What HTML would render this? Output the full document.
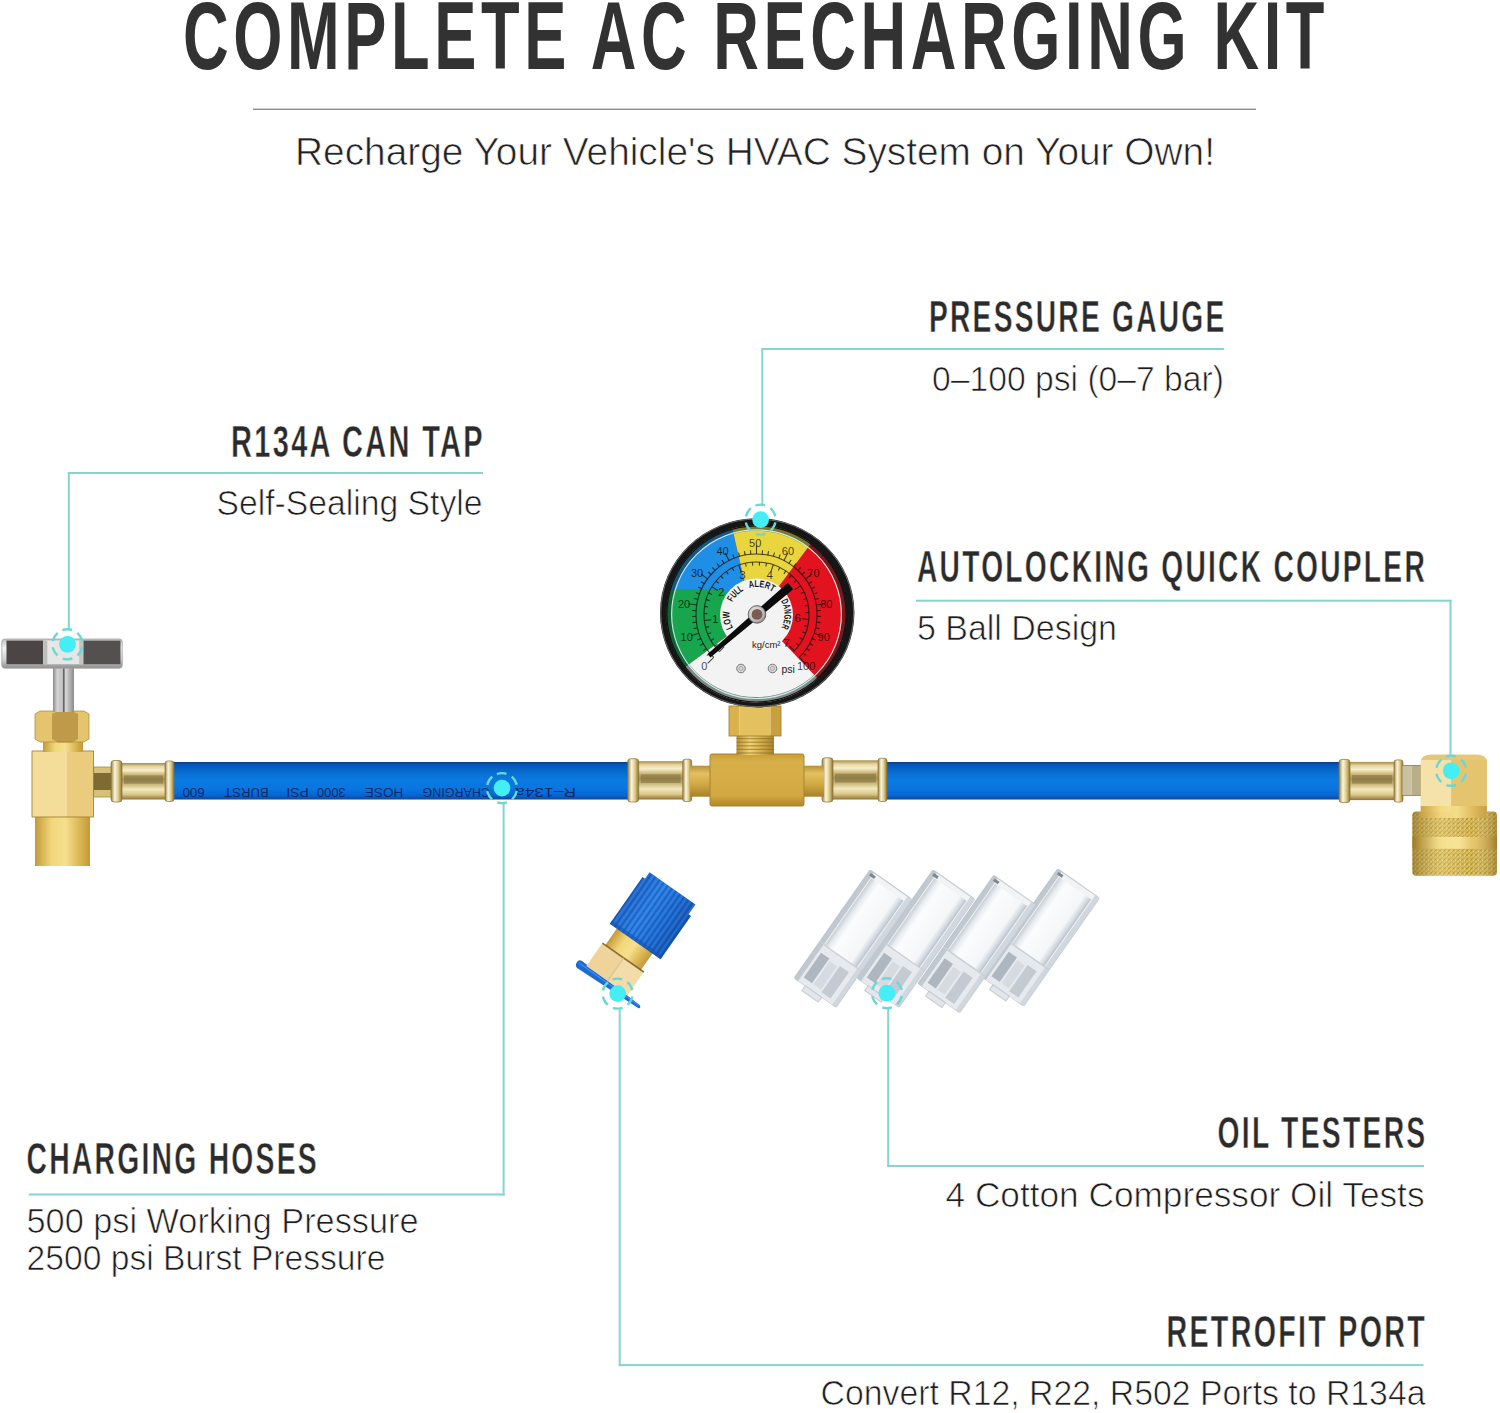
<!DOCTYPE html>
<html><head><meta charset="utf-8"><title>Complete AC Recharging Kit</title>
<style>
html,body{margin:0;padding:0;background:#fff;}
body{width:1500px;height:1413px;overflow:hidden;font-family:"Liberation Sans",sans-serif;}
svg{display:block;font-family:"Liberation Sans",sans-serif;}
</style></head><body>
<svg width="1500" height="1413" viewBox="0 0 1500 1413"><defs>
<linearGradient id="hoseG" x1="0" y1="0" x2="0" y2="1">
 <stop offset="0" stop-color="#063a80"/><stop offset="0.05" stop-color="#0552b0"/>
 <stop offset="0.2" stop-color="#0666c8"/><stop offset="0.45" stop-color="#0a7ae0"/>
 <stop offset="0.7" stop-color="#0a76e0"/><stop offset="0.88" stop-color="#0866d4"/>
 <stop offset="0.96" stop-color="#0a55b0"/><stop offset="1" stop-color="#0a4590"/>
</linearGradient>
<linearGradient id="ferG" x1="0" y1="0" x2="0" y2="1">
 <stop offset="0" stop-color="#a88c44"/><stop offset="0.1" stop-color="#e6d8a4"/>
 <stop offset="0.2" stop-color="#f6eecc"/><stop offset="0.32" stop-color="#cdb874"/>
 <stop offset="0.45" stop-color="#a89456"/><stop offset="0.58" stop-color="#c9b676"/>
 <stop offset="0.72" stop-color="#f2e8c0"/><stop offset="0.86" stop-color="#dcc888"/>
 <stop offset="1" stop-color="#8e7432"/>
</linearGradient>
<linearGradient id="ferEnd" x1="0" y1="0" x2="1" y2="0">
 <stop offset="0" stop-color="#9a8040"/><stop offset="0.35" stop-color="#fbf6de"/>
 <stop offset="0.65" stop-color="#e0cc88"/><stop offset="1" stop-color="#8e7434"/>
</linearGradient>
<linearGradient id="brassV" x1="0" y1="0" x2="0" y2="1">
 <stop offset="0" stop-color="#b89136"/><stop offset="0.25" stop-color="#e2c063"/>
 <stop offset="0.6" stop-color="#d0a943"/><stop offset="1" stop-color="#a6812c"/>
</linearGradient>
<linearGradient id="brassH" x1="0" y1="0" x2="1" y2="0">
 <stop offset="0" stop-color="#b48e34"/><stop offset="0.35" stop-color="#f0d374"/>
 <stop offset="0.6" stop-color="#d9b552"/><stop offset="1" stop-color="#a8832c"/>
</linearGradient>
<linearGradient id="teeG" x1="0" y1="0" x2="0" y2="1">
 <stop offset="0" stop-color="#c99d36"/><stop offset="0.15" stop-color="#d8b04a"/>
 <stop offset="0.8" stop-color="#d2a842"/><stop offset="1" stop-color="#b08628"/>
</linearGradient>
<linearGradient id="cylG" x1="0" y1="0" x2="1" y2="0">
 <stop offset="0" stop-color="#c49a38"/><stop offset="0.3" stop-color="#f2d77a"/>
 <stop offset="0.55" stop-color="#f6e08e"/><stop offset="0.8" stop-color="#dcb856"/>
 <stop offset="1" stop-color="#c29a3a"/>
</linearGradient>
<linearGradient id="stemG" x1="0" y1="0" x2="1" y2="0">
 <stop offset="0" stop-color="#8a8a8a"/><stop offset="0.2" stop-color="#d4d4d4"/>
 <stop offset="0.45" stop-color="#c0c0c0"/><stop offset="0.6" stop-color="#d8d8d8"/><stop offset="1" stop-color="#8c8c8c"/>
</linearGradient>
<linearGradient id="chromeG" x1="0" y1="0" x2="0" y2="1">
 <stop offset="0" stop-color="#bdbdbd"/><stop offset="0.3" stop-color="#f4f4f4"/>
 <stop offset="0.7" stop-color="#d0d0d0"/><stop offset="1" stop-color="#8e8e8e"/>
</linearGradient>
<linearGradient id="darkPanel" x1="0" y1="0" x2="1" y2="0">
 <stop offset="0" stop-color="#3e3b3b"/><stop offset="0.5" stop-color="#4a4646"/>
 <stop offset="1" stop-color="#5a5656"/>
</linearGradient>
<pattern id="knurl" width="4.5" height="4.5" patternUnits="userSpaceOnUse">
 <rect width="4.5" height="4.5" fill="#dcbd58"/>
 <path d="M0 4.5 L4.5 0 M-1 1 L1 -1 M3.5 5.5 L5.5 3.5" stroke="#a2832c" stroke-width="0.9"/>
 <path d="M0 0 L4.5 4.5 M-1 3.5 L1 5.5 M3.5 -1 L5.5 1" stroke="#b8982e" stroke-width="0.7"/>
 <circle cx="2.25" cy="1.1" r="0.6" fill="#f6e6a8"/>
</pattern>
<linearGradient id="knurlShade" x1="0" y1="0" x2="1" y2="0">
 <stop offset="0" stop-color="#6b5010" stop-opacity="0.45"/><stop offset="0.35" stop-color="#fff6c0" stop-opacity="0.25"/>
 <stop offset="0.7" stop-color="#fff" stop-opacity="0"/><stop offset="1" stop-color="#6b5010" stop-opacity="0.4"/>
</linearGradient>
<linearGradient id="capBlue" x1="0" y1="0" x2="1" y2="0">
 <stop offset="0" stop-color="#1d63c6"/><stop offset="0.35" stop-color="#2b7fe4"/>
 <stop offset="0.7" stop-color="#1c6ad2"/><stop offset="1" stop-color="#1553b0"/>
</linearGradient>
<pattern id="ribs" width="5" height="10" patternUnits="userSpaceOnUse">
 <rect x="0" width="1.4" height="10" fill="#0f4aa0" opacity="0.55"/>
 <rect x="2.4" width="1.2" height="10" fill="#5aa6ff" opacity="0.35"/>
</pattern>
<linearGradient id="tubeG" x1="0" y1="0" x2="1" y2="0">
 <stop offset="0" stop-color="#c6ced6"/><stop offset="0.12" stop-color="#e9edf1"/>
 <stop offset="0.25" stop-color="#fbfcfd"/><stop offset="0.8" stop-color="#f4f6f8"/>
 <stop offset="0.92" stop-color="#d4dbe2"/><stop offset="1" stop-color="#b8c2cc"/>
</linearGradient>
<clipPath id="capClip"><path d="M-30,-31 L-30,-88 L-27,-88 L-27,-96 L29,-96 L29,-84 L32,-84 L32,-31 Z"/></clipPath><clipPath id="faceClip"><ellipse cx="756.5" cy="613.9" rx="90" ry="88.5"/></clipPath><radialGradient id="hubG" cx="0.4" cy="0.4" r="0.7">
 <stop offset="0" stop-color="#f4f4f4"/><stop offset="0.7" stop-color="#b8b8b8"/><stop offset="1" stop-color="#6a6a6a"/></radialGradient><path id="innerArc" d="M734.47,630.27 A27.5,27.5 0 1 1 779.53,630.27"/></defs><text x="183" y="68.5" font-size="96" font-weight="bold" fill="#323232" letter-spacing="7" textLength="1146" lengthAdjust="spacingAndGlyphs" text-anchor="start" >COMPLETE AC RECHARGING KIT</text>
<rect x="253" y="108.6" width="1003" height="1.4" fill="#8c8c8c"/>
<text x="295" y="164.7" font-size="38.5" font-weight="normal" fill="#222" textLength="920" lengthAdjust="spacingAndGlyphs" text-anchor="start"  stroke="#fff" stroke-width="0.7">Recharge Your Vehicle's HVAC System on Your Own!</text>
<text x="929" y="332" font-size="44" font-weight="bold" fill="#2b2b2b" letter-spacing="3.5" textLength="297.5" lengthAdjust="spacingAndGlyphs" text-anchor="start"  stroke="#fff" stroke-width="0.5">PRESSURE GAUGE</text>
<rect x="761.5" y="348" width="462.5" height="2" fill="#84d4d2"/>
<rect x="761.3" y="348" width="2" height="157" fill="#84d4d2"/>
<text x="932" y="391" font-size="34.5" font-weight="normal" fill="#1e1e1e" textLength="292" lengthAdjust="spacingAndGlyphs" text-anchor="start"  stroke="#fff" stroke-width="0.7">0–100 psi (0–7 bar)</text>
<text x="231" y="457" font-size="44" font-weight="bold" fill="#2b2b2b" letter-spacing="3.5" textLength="254" lengthAdjust="spacingAndGlyphs" text-anchor="start"  stroke="#fff" stroke-width="0.5">R134A CAN TAP</text>
<rect x="67.8" y="472" width="415.2" height="2" fill="#84d4d2"/>
<rect x="67.8" y="472" width="2" height="157" fill="#84d4d2"/>
<text x="216.5" y="515.4" font-size="34.5" font-weight="normal" fill="#1e1e1e" textLength="266" lengthAdjust="spacingAndGlyphs" text-anchor="start"  stroke="#fff" stroke-width="0.7">Self-Sealing Style</text>
<text x="917" y="581.6" font-size="44" font-weight="bold" fill="#2b2b2b" letter-spacing="3.5" textLength="510" lengthAdjust="spacingAndGlyphs" text-anchor="start"  stroke="#fff" stroke-width="0.5">AUTOLOCKING QUICK COUPLER</text>
<rect x="916" y="599.7" width="535.5" height="2" fill="#84d4d2"/>
<rect x="1449.5" y="600" width="2" height="156" fill="#84d4d2"/>
<text x="917" y="640" font-size="34.5" font-weight="normal" fill="#1e1e1e" textLength="200" lengthAdjust="spacingAndGlyphs" text-anchor="start"  stroke="#fff" stroke-width="0.7">5 Ball Design</text>
<text x="26.5" y="1174.2" font-size="44" font-weight="bold" fill="#2b2b2b" letter-spacing="3.5" textLength="292.5" lengthAdjust="spacingAndGlyphs" text-anchor="start"  stroke="#fff" stroke-width="0.5">CHARGING HOSES</text>
<rect x="28.8" y="1193.5" width="475.8" height="2" fill="#84d4d2"/>
<rect x="502.6" y="803" width="2" height="392.5" fill="#84d4d2"/>
<text x="26.5" y="1232.8" font-size="34.5" font-weight="normal" fill="#1e1e1e" textLength="392" lengthAdjust="spacingAndGlyphs" text-anchor="start"  stroke="#fff" stroke-width="0.7">500 psi Working Pressure</text>
<text x="26.5" y="1270.2" font-size="34.5" font-weight="normal" fill="#1e1e1e" textLength="359" lengthAdjust="spacingAndGlyphs" text-anchor="start"  stroke="#fff" stroke-width="0.7">2500 psi Burst Pressure</text>
<text x="1217.5" y="1148" font-size="44" font-weight="bold" fill="#2b2b2b" letter-spacing="3.5" textLength="210" lengthAdjust="spacingAndGlyphs" text-anchor="start"  stroke="#fff" stroke-width="0.5">OIL TESTERS</text>
<rect x="887.2" y="1165" width="536.8" height="2" fill="#84d4d2"/>
<rect x="887.2" y="1009" width="2" height="158" fill="#84d4d2"/>
<text x="945.5" y="1206.9" font-size="34.5" font-weight="normal" fill="#1e1e1e" textLength="479" lengthAdjust="spacingAndGlyphs" text-anchor="start"  stroke="#fff" stroke-width="0.7">4 Cotton Compressor Oil Tests</text>
<text x="1166.5" y="1347" font-size="44" font-weight="bold" fill="#2b2b2b" letter-spacing="3.5" textLength="260.5" lengthAdjust="spacingAndGlyphs" text-anchor="start"  stroke="#fff" stroke-width="0.5">RETROFIT PORT</text>
<rect x="618.7" y="1364.1" width="804.8" height="2" fill="#84d4d2"/>
<rect x="618.7" y="1010" width="2" height="356" fill="#84d4d2"/>
<text x="820.5" y="1405.3" font-size="34.5" font-weight="normal" fill="#1e1e1e" textLength="605" lengthAdjust="spacingAndGlyphs" text-anchor="start"  stroke="#fff" stroke-width="0.7">Convert R12, R22, R502 Ports to R134a</text>
<rect x="170" y="762" width="462" height="37.5" fill="url(#hoseG)"/>
<rect x="884" y="762" width="459" height="37.5" fill="url(#hoseG)"/>
<g transform="rotate(180 379 781.5)" fill="#0a2258" fill-opacity="0.9" font-size="12.5"><text x="182" y="774.6" textLength="61.0" lengthAdjust="spacingAndGlyphs">R–134a</text><text x="268" y="774.6" textLength="67.6" lengthAdjust="spacingAndGlyphs">CHARGING</text><text x="354.8" y="774.6" textLength="38.4" lengthAdjust="spacingAndGlyphs">HOSE</text><text x="412.4" y="774.6" textLength="28.8" lengthAdjust="spacingAndGlyphs">3000</text><text x="449.2" y="774.6" textLength="22.4" lengthAdjust="spacingAndGlyphs">PSI</text><text x="489.2" y="774.6" textLength="44.8" lengthAdjust="spacingAndGlyphs">BURST</text><text x="553.2" y="774.6" textLength="22.4" lengthAdjust="spacingAndGlyphs">600</text></g>
<rect x="93" y="767" width="19" height="30" fill="#d8c078"/>
<rect x="93" y="773" width="19" height="17" fill="#7e6a34"/>
<rect x="93" y="767" width="19" height="30" fill="none" stroke="#9a7e3a" stroke-width="0.7"/>
<rect x="117" y="763.0" width="51" height="36.5" fill="url(#ferG)"/><rect x="124" y="775.4" width="39" height="8.3" fill="#7c6c3c" opacity="0.55"/><rect x="111" y="760.5" width="11" height="41.5" rx="3" fill="url(#ferEnd)" stroke="#8a7030" stroke-width="0.7"/><rect x="165" y="761.0" width="9" height="40.5" rx="2.5" fill="url(#ferEnd)" stroke="#8a7030" stroke-width="0.7"/>
<rect x="35" y="816" width="55" height="50" fill="url(#cylG)"/>
<rect x="32" y="751" width="33.83" height="66" fill="#f3dd98"/><rect x="65.83" y="751" width="0.61" height="66" fill="#f3dd98"/><rect x="66.44" y="751" width="27.06" height="66" fill="#ebcc7e"/><rect x="32" y="751" width="61.5" height="66" fill="none" stroke="#9a7a2c" stroke-width="0.8"/>
<rect x="43" y="741" width="40" height="11" fill="url(#cylG)"/>
<path d="M35,714 L40,711 L84,711 L89,714 L89,739 L84,742 L40,742 L35,739 Z" fill="#e4c46c"/>
<path d="M52,714 L58,711 L72,711 L78,714 L78,739 L72,742.5 L58,742.5 L52,739 Z" fill="#bf9a48"/>
<path d="M35,714 L40,711 L84,711 L89,714 L89,739 L84,742 L40,742 L35,739 Z" fill="none" stroke="#a8873a" stroke-width="0.7"/>
<rect x="53" y="667" width="21" height="45" fill="url(#stemG)"/>
<rect x="63" y="667" width="1.6" height="45" fill="#4a4a4a" opacity="0.8"/>
<rect x="1.8" y="639" width="120.5" height="29.2" rx="3" fill="url(#chromeG)" stroke="#a4a4a4" stroke-width="0.8"/>
<rect x="6.5" y="640.6" width="36.8" height="23.6" fill="#4b4545"/>
<rect x="83.2" y="640.6" width="37.3" height="23.6" fill="#555050"/>
<rect x="43.3" y="640.6" width="39.9" height="23.6" fill="#e6e6e6"/>
<rect x="43.3" y="640.6" width="4" height="23.6" fill="#bdbdbd"/>
<rect x="79.2" y="640.6" width="4" height="23.6" fill="#c4c4c4"/>
<rect x="633.7" y="761.2" width="52" height="38.3" fill="url(#ferG)"/><rect x="640.7" y="774.3" width="40" height="8.7" fill="#7c6c3c" opacity="0.55"/><rect x="627.7" y="758.7" width="11" height="43.3" rx="3" fill="url(#ferEnd)" stroke="#8a7030" stroke-width="0.7"/><rect x="682.7" y="759.2" width="9" height="42.3" rx="2.5" fill="url(#ferEnd)" stroke="#8a7030" stroke-width="0.7"/>
<rect x="828" y="760.3" width="53" height="39.2" fill="url(#ferG)"/><rect x="835" y="773.7" width="41" height="8.8" fill="#7c6c3c" opacity="0.55"/><rect x="822" y="757.8" width="11" height="44.2" rx="3" fill="url(#ferEnd)" stroke="#8a7030" stroke-width="0.7"/><rect x="878" y="758.3" width="9" height="43.2" rx="2.5" fill="url(#ferEnd)" stroke="#8a7030" stroke-width="0.7"/>
<rect x="690" y="765.7" width="22" height="31" fill="url(#brassV)"/>
<rect x="802" y="765.7" width="22" height="31" fill="url(#brassV)"/>
<rect x="710" y="754" width="94" height="52" rx="2" fill="url(#teeG)" stroke="#a88430" stroke-width="1"/>
<rect x="736.5" y="735" width="37.5" height="20" fill="url(#brassH)"/>
<rect x="736.5" y="738.0" width="37.5" height="1.2" fill="#8a6a22" opacity="0.6"/>
<rect x="736.5" y="741.6" width="37.5" height="1.2" fill="#8a6a22" opacity="0.6"/>
<rect x="736.5" y="745.2" width="37.5" height="1.2" fill="#8a6a22" opacity="0.6"/>
<rect x="736.5" y="748.8" width="37.5" height="1.2" fill="#8a6a22" opacity="0.6"/>
<rect x="736.5" y="752.4" width="37.5" height="1.2" fill="#8a6a22" opacity="0.6"/>
<rect x="729" y="706" width="10.40" height="30" fill="#d9b24e"/><rect x="739.40" y="706" width="31.20" height="30" fill="#e4c05e"/><rect x="770.60" y="706" width="10.40" height="30" fill="#c9a040"/><rect x="729" y="706" width="52" height="30" fill="none" stroke="#9a7a2c" stroke-width="0.8"/>
<ellipse cx="757.2" cy="612.8" rx="97.2" ry="94.6" fill="#161616"/><ellipse cx="757.2" cy="612.8" rx="96.4" ry="93.8" fill="none" stroke="#8c8c8c" stroke-width="1" opacity="0.7"/><ellipse cx="756.5" cy="613.9" rx="90" ry="88.5" fill="#e2121f"/><g clip-path="url(#faceClip)"><polygon points="640.0,589.0 721.0,589.0 756.5,614.5 640.0,700.3" fill="#17a64d"/><polygon points="640.0,470.0 719.0,470.0 752.0,614.5 721.0,589.0 640.0,589.0" fill="#1f8fe6"/><polygon points="719.0,470.0 866.0,470.0 757.7,614.5 752.0,614.5" fill="#e9d53e"/><polygon points="756.5,614.5 880.0,743.8 620.0,743.8 620.0,715.0" fill="#f3f3f3"/></g><ellipse cx="756.5" cy="613.9" rx="87.3" ry="85.8" fill="none" stroke="#06221e" stroke-opacity="0.5" stroke-width="5.4"/><ellipse cx="756.5" cy="614.2" rx="84.9" ry="84.3" fill="none" stroke="#e4fafa" stroke-opacity="0.85" stroke-width="1.2"/><ellipse cx="756.5" cy="613.9" rx="89.6" ry="88.1" fill="none" stroke="#101010" stroke-width="1.2"/><circle cx="756.5" cy="615.0" r="36.5" fill="#f3f3f3"/><path d="M713.7,657.3 A60.5,60.5 0 1 1 799.3,657.3" fill="none" stroke="#111" stroke-opacity="0.75" stroke-width="1.1"/><path d="M719.4,651.6 A52.5,52.5 0 1 1 793.6,651.6" fill="none" stroke="#111" stroke-opacity="0.75" stroke-width="1.1"/><path d="M713.7,657.3L707.7,663.3M709.9,653.1L706.8,655.6M706.5,648.5L703.2,650.8M703.5,643.6L700.0,645.6M701.0,638.5L697.3,640.1M699.0,633.2L690.9,635.8M697.5,627.7L693.6,628.6M696.5,622.1L692.5,622.6M696.0,616.4L692.0,616.5M696.1,610.7L692.1,610.5M696.7,605.0L688.3,603.7M697.9,599.5L694.0,598.5M699.6,594.0L695.8,592.7M701.8,588.7L698.1,587.0M704.4,583.7L701.0,581.7M707.6,578.9L700.7,573.9M711.1,574.5L708.1,571.8M715.1,570.4L712.3,567.5M719.4,566.7L717.0,563.5M724.1,563.4L721.9,560.0M729.0,560.6L725.2,553.0M734.2,558.2L732.8,554.5M739.6,556.4L738.5,552.6M745.2,555.1L744.4,551.1M750.8,554.3L750.4,550.3M756.5,554.0L756.5,545.5M762.2,554.3L762.6,550.3M767.8,555.1L768.6,551.1M773.4,556.4L774.5,552.6M778.8,558.2L780.2,554.5M784.0,560.6L787.8,553.0M788.9,563.4L791.1,560.0M793.6,566.7L796.0,563.5M797.9,570.4L800.7,567.5M801.9,574.5L804.9,571.8M805.4,578.9L812.3,573.9M808.6,583.7L812.0,581.7M811.2,588.7L814.9,587.0M813.4,594.0L817.2,592.7M815.1,599.5L819.0,598.5M816.3,605.0L824.7,603.7M816.9,610.7L820.9,610.5M817.0,616.4L821.0,616.5M816.5,622.1L820.5,622.6M815.5,627.7L819.4,628.6M814.0,633.2L822.1,635.8M812.0,638.5L815.7,640.1M809.5,643.6L813.0,645.6M806.5,648.5L809.8,650.8M803.1,653.1L806.2,655.6M799.3,657.3L805.3,663.3M719.4,651.6L724.3,646.7M714.7,646.3L717.5,644.2M710.9,640.5L713.9,638.7M707.8,634.1L711.1,632.8M705.6,627.4L709.0,626.6M704.3,620.5L711.3,619.7M704.0,613.5L707.5,613.6M704.6,606.5L708.1,607.0M706.1,599.6L709.5,600.6M708.6,593.0L711.8,594.5M711.9,586.8L717.8,590.5M716.0,581.1L718.7,583.3M720.8,576.0L723.2,578.6M726.3,571.6L728.3,574.4M732.3,567.9L733.9,571.0M738.7,565.1L741.1,571.7M745.5,563.2L746.2,566.6M752.4,562.2L752.7,565.6M759.5,562.1L759.3,565.6M766.5,563.0L765.8,566.4M773.3,564.7L771.0,571.4M779.8,567.4L778.2,570.6M785.8,571.0L783.9,573.9M791.4,575.3L789.1,577.9M796.3,580.3L793.7,582.6M800.5,585.9L794.7,589.7M804.0,592.1L800.8,593.6M806.5,598.6L803.2,599.7M808.2,605.4L804.8,606.0M809.0,612.4L805.5,612.6M808.8,619.5L801.8,618.8M807.6,626.4L804.2,625.6M805.6,633.1L802.3,631.9M802.7,639.5L799.6,637.8M798.9,645.5L796.1,643.4M794.4,650.8L789.3,646.0" stroke="#111" stroke-opacity="0.75" stroke-width="1.1" fill="none"/><g font-size="11" fill="#000" fill-opacity="0.72"><text x="704.3" y="669.7" text-anchor="middle">0</text><text x="686.7" y="641.0" text-anchor="middle">10</text><text x="684.1" y="607.5" text-anchor="middle">20</text><text x="697.0" y="576.5" text-anchor="middle">30</text><text x="722.5" y="554.6" text-anchor="middle">40</text><text x="755.2" y="546.8" text-anchor="middle">50</text><text x="787.9" y="554.6" text-anchor="middle">60</text><text x="813.4" y="576.5" text-anchor="middle">70</text><text x="826.3" y="607.5" text-anchor="middle">80</text><text x="823.7" y="641.0" text-anchor="middle">90</text><text x="806.1" y="669.7" text-anchor="middle">100</text></g><g font-size="11.5" fill="#000" fill-opacity="0.72"><text x="715.3" y="623.1" text-anchor="middle">1</text><text x="721.2" y="596.4" text-anchor="middle">2</text><text x="742.4" y="579.3" text-anchor="middle">3</text><text x="769.7" y="579.0" text-anchor="middle">4</text><text x="797.8" y="622.2" text-anchor="middle">6</text><text x="786.4" y="647.0" text-anchor="middle">7</text></g><text font-size="9.8" font-weight="bold" fill="#161616"><textPath href="#innerArc" startOffset="2.9" textLength="16.8" lengthAdjust="spacingAndGlyphs">LOW</textPath></text><text font-size="9.8" font-weight="bold" fill="#161616"><textPath href="#innerArc" startOffset="29.3" textLength="16.8" lengthAdjust="spacingAndGlyphs">FULL</textPath></text><text font-size="9.8" font-weight="bold" fill="#161616"><textPath href="#innerArc" startOffset="51.8" textLength="24.5" lengthAdjust="spacingAndGlyphs">ALERT</textPath></text><text font-size="9.8" font-weight="bold" fill="#161616"><textPath href="#innerArc" startOffset="88.3" textLength="27.8" lengthAdjust="spacingAndGlyphs">DANGER</textPath></text><text x="752" y="648" font-size="9.5" fill="#222">kg/cm²</text><text x="781.5" y="673" font-size="10.5" fill="#222">psi</text><circle cx="741" cy="668.5" r="4.3" fill="#d8d8d8" stroke="#777" stroke-width="1"/><circle cx="741" cy="668.5" r="2" fill="none" stroke="#999" stroke-width="0.8"/><circle cx="772.5" cy="668.5" r="4.3" fill="#d8d8d8" stroke="#777" stroke-width="1"/><circle cx="772.5" cy="668.5" r="2" fill="none" stroke="#999" stroke-width="0.8"/><polygon points="710.4,657.4 793.2,589.2 787.8,582.8 707.6,654.0" fill="#0c0c0c"/><circle cx="757" cy="614.4" r="8.8" fill="url(#hubG)" stroke="#4a4a4a" stroke-width="0.8"/><circle cx="757" cy="614.4" r="5.4" fill="#7b5c52"/>
<rect x="1345" y="761.9" width="52" height="38.2" fill="url(#ferG)"/><rect x="1352" y="775.0" width="40" height="8.6" fill="#7c6c3c" opacity="0.55"/><rect x="1339" y="759.4" width="11" height="43.2" rx="3" fill="url(#ferEnd)" stroke="#8a7030" stroke-width="0.7"/><rect x="1394" y="759.9" width="9" height="42.2" rx="2.5" fill="url(#ferEnd)" stroke="#8a7030" stroke-width="0.7"/>
<rect x="1402" y="765.4" width="9.50" height="30" fill="#c8c0a0"/><rect x="1411.50" y="765.4" width="9.31" height="30" fill="#b8ae88"/><rect x="1420.81" y="765.4" width="0.19" height="30" fill="#d6ccaa"/><rect x="1402" y="765.4" width="19" height="30" fill="none" stroke="#9a7a2c" stroke-width="0.8"/>
<rect x="1412.4" y="811.6" width="84.6" height="64.2" rx="4" fill="url(#knurl)"/>
<rect x="1412.4" y="836.8" width="84.6" height="12" fill="url(#cylG)"/>
<rect x="1412.4" y="811.6" width="84.6" height="64.2" rx="4" fill="url(#knurlShade)"/>
<path d="M1420.8 762 Q1421 754.6 1432 754.6 L1476 754.6 Q1486.8 754.6 1486.8 762 L1486.8 818 L1420.8 818 Z" fill="#e6c77a"/>
<rect x="1420.8" y="760" width="30.5" height="52" fill="#f4e2aa"/>
<rect x="1451.3" y="760" width="35.5" height="52" fill="#e5c470"/>
<rect x="1420.8" y="806" width="66" height="12" fill="url(#cylG)" opacity="0.85"/>
<g transform="translate(616.6 966.4) rotate(35)"><path d="M-35,19 Q-35,15.5 -31,15.5 L41,18.3 Q44,19.5 42,21.8 L-31,24 Q-35,23.5 -35,19 Z" fill="#1c6bd2"/><path d="M-33,18.6 L41,19.2" stroke="#3d8ef0" stroke-width="1.2"/><rect x="-21.5" y="-33" width="43.5" height="23" fill="url(#cylG)"/><rect x="-25" y="-11" width="26" height="28" fill="#eed49a"/><rect x="1" y="-11" width="24.5" height="28" fill="#f3dcaa"/><rect x="-25" y="-11.8" width="50.5" height="1.6" fill="#6e5422" opacity="0.8"/><rect x="0.4" y="-11" width="1.2" height="28" fill="#d9bd7c" opacity="0.8"/><path d="M-30,-31 L-30,-88 L-27,-88 L-27,-96 L29,-96 L29,-84 L32,-84 L32,-31 Z" fill="url(#capBlue)"/><rect x="-30" y="-96" width="62" height="65" fill="url(#ribs)" clip-path="url(#capClip)"/><rect x="-30" y="-35" width="62" height="4" fill="#1553b0" opacity="0.6"/></g>
<g transform="translate(1040.7 937.5) rotate(35)"><rect x="-25.5" y="-66" width="51" height="132" rx="2" fill="#f1f3f5" stroke="#c3cad1" stroke-width="1.1"/><rect x="-19.5" y="-60" width="39" height="82" fill="url(#tubeG)"/><rect x="-25.5" y="-66" width="5" height="132" fill="#b7c0c9" opacity="0.85"/><rect x="20.5" y="-66" width="5" height="132" fill="#cdd4db" opacity="0.9"/><rect x="-20.5" y="22" width="41" height="44" fill="#e6e9ed"/><rect x="-18" y="30" width="10" height="30" fill="#aeb7c0"/><rect x="-6" y="32" width="9" height="28" fill="#d6dbe0"/><rect x="5" y="30" width="11" height="32" fill="#c3cad1"/><rect x="-25.5" y="21" width="51" height="1.4" fill="#c9d0d6"/><rect x="-12" y="66" width="20" height="6" fill="#e2e6ea" stroke="#c3cad1" stroke-width="1"/><rect x="-23" y="-64" width="6" height="3" fill="#7d8790"/></g>
<g transform="translate(976.7 944) rotate(35)"><rect x="-25.5" y="-66" width="51" height="132" rx="2" fill="#f1f3f5" stroke="#c3cad1" stroke-width="1.1"/><rect x="-19.5" y="-60" width="39" height="82" fill="url(#tubeG)"/><rect x="-25.5" y="-66" width="5" height="132" fill="#b7c0c9" opacity="0.85"/><rect x="20.5" y="-66" width="5" height="132" fill="#cdd4db" opacity="0.9"/><rect x="-20.5" y="22" width="41" height="44" fill="#e6e9ed"/><rect x="-18" y="30" width="10" height="30" fill="#aeb7c0"/><rect x="-6" y="32" width="9" height="28" fill="#d6dbe0"/><rect x="5" y="30" width="11" height="32" fill="#c3cad1"/><rect x="-25.5" y="21" width="51" height="1.4" fill="#c9d0d6"/><rect x="-12" y="66" width="20" height="6" fill="#e2e6ea" stroke="#c3cad1" stroke-width="1"/><rect x="-23" y="-64" width="6" height="3" fill="#7d8790"/></g>
<g transform="translate(916 938.6) rotate(35)"><rect x="-25.5" y="-66" width="51" height="132" rx="2" fill="#f1f3f5" stroke="#c3cad1" stroke-width="1.1"/><rect x="-19.5" y="-60" width="39" height="82" fill="url(#tubeG)"/><rect x="-25.5" y="-66" width="5" height="132" fill="#b7c0c9" opacity="0.85"/><rect x="20.5" y="-66" width="5" height="132" fill="#cdd4db" opacity="0.9"/><rect x="-20.5" y="22" width="41" height="44" fill="#e6e9ed"/><rect x="-18" y="30" width="10" height="30" fill="#aeb7c0"/><rect x="-6" y="32" width="9" height="28" fill="#d6dbe0"/><rect x="5" y="30" width="11" height="32" fill="#c3cad1"/><rect x="-25.5" y="21" width="51" height="1.4" fill="#c9d0d6"/><rect x="-12" y="66" width="20" height="6" fill="#e2e6ea" stroke="#c3cad1" stroke-width="1"/><rect x="-23" y="-64" width="6" height="3" fill="#7d8790"/></g>
<g transform="translate(853 938.6) rotate(35)"><rect x="-25.5" y="-66" width="51" height="132" rx="2" fill="#f1f3f5" stroke="#c3cad1" stroke-width="1.1"/><rect x="-19.5" y="-60" width="39" height="82" fill="url(#tubeG)"/><rect x="-25.5" y="-66" width="5" height="132" fill="#b7c0c9" opacity="0.85"/><rect x="20.5" y="-66" width="5" height="132" fill="#cdd4db" opacity="0.9"/><rect x="-20.5" y="22" width="41" height="44" fill="#e6e9ed"/><rect x="-18" y="30" width="10" height="30" fill="#aeb7c0"/><rect x="-6" y="32" width="9" height="28" fill="#d6dbe0"/><rect x="5" y="30" width="11" height="32" fill="#c3cad1"/><rect x="-25.5" y="21" width="51" height="1.4" fill="#c9d0d6"/><rect x="-12" y="66" width="20" height="6" fill="#e2e6ea" stroke="#c3cad1" stroke-width="1"/><rect x="-23" y="-64" width="6" height="3" fill="#7d8790"/></g>
<circle cx="67.5" cy="644.3" r="15" fill="none" stroke="#6cd8d4" stroke-width="2.4" stroke-dasharray="9.74 5.97" transform="rotate(-110 67.5 644.3)"/><circle cx="67.5" cy="644.3" r="8.4" fill="#44eef4"/>
<circle cx="760.6" cy="519.6" r="15" fill="none" stroke="#6cd8d4" stroke-width="2.4" stroke-dasharray="9.74 5.97" transform="rotate(-110 760.6 519.6)"/><circle cx="760.6" cy="519.6" r="8.4" fill="#44eef4"/>
<circle cx="502" cy="788.1" r="15" fill="none" stroke="#6cd8d4" stroke-width="2.4" stroke-dasharray="9.74 5.97" transform="rotate(-110 502 788.1)"/><circle cx="502" cy="788.1" r="8.4" fill="#44eef4"/>
<circle cx="1451.2" cy="770.8" r="15" fill="none" stroke="#6cd8d4" stroke-width="2.4" stroke-dasharray="9.74 5.97" transform="rotate(-110 1451.2 770.8)"/><circle cx="1451.2" cy="770.8" r="8.4" fill="#44eef4"/>
<circle cx="617.7" cy="993.6" r="15" fill="none" stroke="#6cd8d4" stroke-width="2.4" stroke-dasharray="9.74 5.97" transform="rotate(-110 617.7 993.6)"/><circle cx="617.7" cy="993.6" r="8.4" fill="#44eef4"/>
<circle cx="887" cy="993.2" r="15" fill="none" stroke="#6cd8d4" stroke-width="2.4" stroke-dasharray="9.74 5.97" transform="rotate(-110 887 993.2)"/><circle cx="887" cy="993.2" r="8.4" fill="#44eef4"/></svg>
</body></html>
